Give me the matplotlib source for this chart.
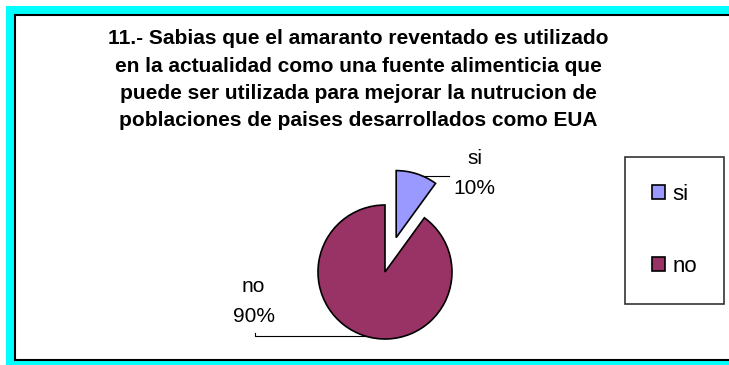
import numpy as np
import matplotlib
matplotlib.use('Agg')
import matplotlib.pyplot as plt
from matplotlib.patches import Rectangle

plt.rcParams['font.family'] = ['Liberation Sans', 'DejaVu Sans']

TITLE = ("11.- Sabias que el amaranto reventado es utilizado\n"
         "en la actualidad como una fuente alimenticia que\n"
         "puede ser utilizada para mejorar la nutrucion de\n"
         "poblaciones de paises desarrollados como EUA")
labels = ['si', 'no']
values = [10, 90]
colors = ['#9999FF', '#993366']
explode = [0.54, 0]

W, H = 729, 365
fig = plt.figure(figsize=(W / 100, H / 100), dpi=100)

# background frame, in pixel units
bg = fig.add_axes([0, 0, 1, 1])
bg.set_xlim(0, W)
bg.set_ylim(H, 0)
bg.axis('off')
bg.add_patch(Rectangle((6, 6), W, H, facecolor='#00FFFF', edgecolor='none'))
bg.add_patch(Rectangle((15, 15), W, 345, facecolor='white', edgecolor='black', lw=1.5))

fig.text(358 / W, 1 - 29.5 / H, TITLE, ha='center', va='top', fontsize=15,
         fontweight='bold', linespacing=1.55)

# pie, radius of 67 px centred at (385, 272)
R, cx, cy, ext = 67, 385, 272, 1.6
box = 2 * ext * R
ax = fig.add_axes([(cx - box / 2) / W, (H - cy - box / 2) / H, box / W, box / H])
wedges, _ = ax.pie(values, colors=colors, explode=explode, startangle=90,
                   counterclock=False, radius=1,
                   wedgeprops=dict(edgecolor='black', linewidth=1.2))
ax.set_xlim(-ext, ext)
ax.set_ylim(-ext, ext)
ax.set_aspect('equal')
ax.axis('off')

# data labels with leader lines
total = sum(values)
label_style = [
    # anchor angle, line end x, line end y, text x, text y
    (67, 0.96, None, 1.34, 1.47),
    (-107, -1.94, -0.91, -1.96, -0.44),
]
for w, lab, v, ex, (ang, lx, ly, tx, ty) in zip(wedges, labels, values, explode, label_style):
    mid = np.deg2rad((w.theta1 + w.theta2) / 2)
    ox, oy = ex * np.cos(mid), ex * np.sin(mid)
    px, py = ox + np.cos(np.deg2rad(ang)), oy + np.sin(np.deg2rad(ang))
    xs, ys = [px, lx], [py, py]
    if ly is not None:
        xs.append(lx)
        ys.append(ly)
    ax.plot(xs, ys, color='black', lw=0.8, clip_on=False)
    ax.text(tx, ty, f"{lab}\n{v / total:.0%}", ha='center', va='center',
            fontsize=15, linespacing=1.68, clip_on=False)

leg = fig.legend(wedges, labels, loc='upper left',
                 bbox_to_anchor=(625 / W, 1 - 157 / H, 99 / W, 0), mode='expand',
                 borderaxespad=0, fontsize=16, frameon=True, fancybox=False,
                 labelspacing=2.3, borderpad=1.22, handlelength=0.6,
                 handleheight=0.6, handletextpad=0.3)
leg.get_frame().set_edgecolor('black')
leg.get_frame().set_linewidth(1.2)

fig.savefig('out.png', dpi=100)
